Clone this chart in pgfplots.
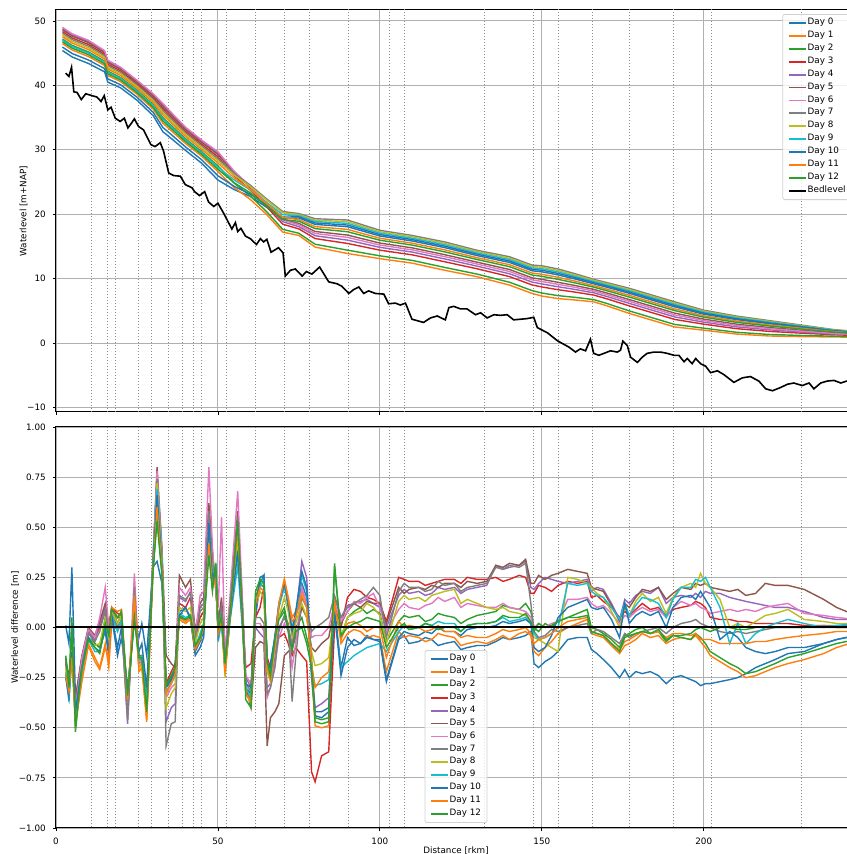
\documentclass[border=0pt]{standalone}
\usepackage{fontspec}
\setmainfont{DejaVu Sans}
\usepackage{pgfplots}
\usepackage{pgfplotstable}
\pgfplotsset{compat=1.18}

\definecolor{C0}{HTML}{1F77B4}
\definecolor{C1}{HTML}{FF7F0E}
\definecolor{C2}{HTML}{2CA02C}
\definecolor{C3}{HTML}{D62728}
\definecolor{C4}{HTML}{9467BD}
\definecolor{C5}{HTML}{8C564B}
\definecolor{C6}{HTML}{E377C2}
\definecolor{C7}{HTML}{7F7F7F}
\definecolor{C8}{HTML}{BCBD22}
\definecolor{C9}{HTML}{17BECF}
\definecolor{gridc}{HTML}{B0B0B0}

\pgfplotstableread{
x d0 d1 d2 d3 d4 d5 d6 d7 d8 d9 d10 d11 d12
2 45.40 46.48 47.20 48.35 48.82 48.64 49.00 48.10 47.85 47.02 45.94 47.56 46.77
5 44.40 45.48 46.20 47.35 47.82 47.64 48.00 47.10 46.85 46.02 44.94 46.56 45.77
10 43.40 44.48 45.20 46.35 46.82 46.64 47.00 46.10 45.85 45.02 43.94 45.56 44.77
15 42.10 43.09 43.75 44.81 45.24 45.07 45.40 44.58 44.34 43.59 42.60 44.08 43.35
16 40.50 41.52 42.20 43.29 43.73 43.56 43.90 43.05 42.81 42.03 41.01 42.54 41.79
20 39.60 40.56 41.20 42.22 42.64 42.48 42.80 42.00 41.78 41.04 40.08 41.52 40.82
25 37.70 38.63 39.25 40.24 40.65 40.49 40.80 40.03 39.81 39.10 38.17 39.56 38.88
30 35.30 36.32 37.00 38.09 38.53 38.36 38.70 37.85 37.61 36.83 35.81 37.34 36.59
33 32.80 34.12 35.00 36.41 36.98 36.76 37.20 36.10 35.79 34.78 33.46 35.44 34.47
35 32.00 33.23 34.05 35.36 35.90 35.69 36.10 35.08 34.79 33.85 32.62 34.46 33.56
40 29.90 30.98 31.70 32.85 33.32 33.14 33.50 32.60 32.35 31.52 30.44 32.06 31.27
45 27.90 28.98 29.70 30.85 31.32 31.14 31.50 30.60 30.35 29.52 28.44 30.06 29.27
50 25.30 26.62 27.50 28.91 29.48 29.26 29.70 28.60 28.29 27.28 25.96 27.94 26.97
55 23.82 24.14 24.84 25.99 26.48 26.44 26.69 26.32 26.06 25.31 24.33 25.63 24.89
60 22.76 22.29 22.82 23.72 24.11 24.21 24.31 24.51 24.30 23.78 23.12 23.84 23.31
65 21.09 19.97 20.41 21.18 21.52 21.74 21.73 22.39 22.21 21.83 21.37 21.68 21.28
70 19.30 17.22 17.65 18.45 18.84 19.23 19.10 20.42 20.23 19.92 19.56 19.51 19.15
75 19.42 16.70 17.04 17.72 18.06 18.57 18.33 20.10 19.93 19.76 19.59 19.15 18.91
80 18.42 14.90 15.34 16.22 16.66 17.32 17.01 19.30 19.08 18.86 18.64 18.07 17.76
90 18.06 13.90 14.42 15.46 15.98 16.76 16.40 19.10 18.84 18.58 18.32 17.64 17.28
100 16.62 13.10 13.54 14.42 14.86 15.52 15.21 17.50 17.28 17.06 16.84 16.27 15.96
110 15.84 12.40 12.83 13.69 14.12 14.77 14.46 16.70 16.49 16.27 16.06 15.50 15.20
120 14.82 11.30 11.74 12.62 13.06 13.72 13.41 15.70 15.48 15.26 15.04 14.47 14.16
130 13.58 10.30 10.71 11.53 11.94 12.56 12.27 14.40 14.20 13.99 13.79 13.25 12.97
140 12.52 9.00 9.44 10.32 10.76 11.42 11.11 13.40 13.18 12.96 12.74 12.17 11.86
147 11.22 7.70 8.14 9.02 9.46 10.12 9.81 12.10 11.88 11.66 11.44 10.87 10.56
150 11.06 7.30 7.77 8.71 9.18 9.89 9.56 12.00 11.77 11.53 11.30 10.68 10.36
155 10.58 6.90 7.36 8.28 8.74 9.43 9.11 11.50 11.27 11.04 10.81 10.21 9.89
160 9.98 6.70 7.11 7.93 8.34 8.96 8.67 10.80 10.60 10.39 10.19 9.65 9.37
166 9.20 6.40 6.75 7.45 7.80 8.33 8.08 9.90 9.73 9.55 9.38 8.92 8.68
170 8.68 5.80 6.16 6.88 7.24 7.78 7.53 9.40 9.22 9.04 8.86 8.39 8.14
177 7.72 4.60 4.99 5.77 6.16 6.75 6.47 8.50 8.31 8.11 7.92 7.41 7.14
185 6.52 3.40 3.79 4.57 4.96 5.55 5.27 7.30 7.11 6.91 6.72 6.21 5.94
191 5.62 2.50 2.89 3.67 4.06 4.65 4.37 6.40 6.21 6.01 5.82 5.31 5.04
200 4.48 2.00 2.31 2.93 3.24 3.71 3.49 5.10 4.95 4.79 4.64 4.23 4.02
210 3.64 1.40 1.68 2.24 2.52 2.94 2.74 4.20 4.06 3.92 3.78 3.42 3.22
220 3.02 1.10 1.34 1.82 2.06 2.42 2.25 3.50 3.38 3.26 3.14 2.83 2.66
230 2.44 1.00 1.18 1.54 1.72 1.99 1.86 2.80 2.71 2.62 2.53 2.30 2.17
240 1.87 0.95 1.07 1.30 1.41 1.58 1.50 2.10 2.04 1.99 1.93 1.78 1.70
247 1.62 0.90 0.99 1.17 1.26 1.40 1.33 1.80 1.76 1.71 1.67 1.55 1.49
}\wl

\pgfplotstableread{
x y
3.0 41.9
4.0 41.4
4.8 42.8
5.5 39.0
6.5 38.9
7.8 37.8
9.2 38.7
11.1 38.4
12.6 38.2
13.9 37.5
14.9 38.4
16.0 36.2
17.0 36.6
18.3 34.9
19.8 34.4
21.1 34.9
22.2 33.4
23.4 34.2
24.2 34.8
25.5 33.6
27.0 33.1
29.3 30.8
30.6 30.5
32.2 31.1
33.2 29.8
34.8 26.4
36.3 26.0
38.4 25.9
39.9 24.6
42.0 24.1
42.8 23.5
44.3 22.9
45.9 23.5
47.1 21.9
48.7 21.2
50.0 21.7
51.6 20.3
54.3 17.7
55.4 18.7
56.1 17.3
57.1 17.8
58.5 16.6
60.0 16.2
61.9 15.3
63.1 16.2
64.1 15.7
65.1 16.1
66.4 14.1
68.7 14.8
70.1 14.0
70.8 10.4
72.4 11.3
73.9 11.5
76.0 10.4
77.3 11.1
79.0 10.7
81.4 11.8
84.2 9.5
86.8 9.2
88.3 8.8
90.4 7.7
91.9 8.3
93.5 8.7
95.0 7.7
96.5 8.1
98.6 7.7
101.2 7.6
102.7 6.1
104.8 6.2
106.3 5.9
107.9 6.2
109.9 3.7
113.5 3.2
115.6 3.9
117.7 4.2
120.2 3.6
121.3 5.5
122.8 5.7
124.9 5.3
126.9 5.3
129.5 4.4
131.1 4.7
133.1 3.9
135.2 4.4
137.2 4.3
139.3 4.4
141.3 3.6
143.4 3.7
145.5 3.8
147.5 4.0
148.6 2.4
151.7 1.6
154.7 0.4
156.8 -0.2
158.3 -0.6
160.4 -1.4
161.9 -0.9
163.5 -1.2
165.0 0.6
166.0 -1.6
167.6 -1.9
169.7 -1.5
171.2 -1.2
173.3 -1.4
174.3 -1.1
175.0 0.3
176.4 -0.4
177.4 -2.2
179.5 -3.0
181.0 -2.2
182.5 -1.6
184.6 -1.4
186.7 -1.4
188.7 -1.6
190.8 -1.9
192.3 -1.9
193.9 -2.9
194.9 -2.4
196.4 -3.2
197.5 -2.4
199.0 -3.2
200.6 -3.6
202.1 -4.6
204.2 -4.3
206.2 -4.9
209.3 -6.1
211.9 -5.4
214.4 -5.2
217.0 -5.9
219.1 -7.1
221.2 -7.4
223.7 -6.9
225.8 -6.4
227.8 -6.2
230.4 -6.6
232.5 -6.2
234.0 -7.1
236.1 -6.2
238.1 -5.9
240.2 -5.8
242.3 -6.2
244.1 -5.9
247.0 -6.0
}\bed

\pgfplotstableread{
x d0 d1 d2 d3 d4 d5 d6 d7 d8 d9 d10 d11 d12
3 0.01 -0.22 -0.14 -0.18 -0.20 -0.17 -0.19 -0.16 -0.20 -0.23 -0.25 -0.24 -0.15
4 -0.08 -0.30 -0.27 -0.28 -0.26 -0.25 -0.27 -0.30 -0.30 -0.37 -0.35 -0.32 -0.30
4.9 0.30 -0.12 0.05 -0.10 -0.08 -0.10 -0.10 -0.12 -0.10 -0.15 -0.12 -0.15 0.00
6 -0.35 -0.47 -0.52 -0.38 -0.40 -0.36 -0.40 -0.42 -0.46 -0.44 -0.42 -0.48 -0.50
8 -0.15 -0.25 -0.20 -0.15 -0.18 -0.14 -0.15 -0.20 -0.22 -0.22 -0.20 -0.27 -0.20
10 -0.02 -0.08 -0.05 -0.01 -0.02 0.00 -0.01 -0.03 -0.05 -0.06 -0.05 -0.09 -0.06
12 -0.08 -0.15 -0.08 -0.05 -0.06 -0.04 -0.05 -0.07 -0.09 -0.12 -0.10 -0.17 -0.10
13.5 -0.10 -0.20 -0.10 0.00 0.02 0.03 0.05 -0.02 -0.08 -0.12 -0.12 -0.21 -0.13
15.2 -0.02 -0.08 0.05 0.08 0.10 0.12 0.20 0.09 0.04 0.00 0.00 -0.10 0.02
16.3 -0.14 -0.20 -0.05 0.00 0.02 0.00 0.00 -0.03 -0.07 -0.10 -0.12 -0.15 -0.04
17.2 0.05 0.02 0.09 0.10 0.08 0.10 0.07 0.08 0.08 0.06 0.06 0.10 0.09
19 -0.14 0.05 0.02 0.07 0.00 0.05 -0.02 0.00 0.02 -0.02 -0.10 0.08 0.05
20.2 -0.05 0.08 0.07 0.06 0.03 0.05 0.02 0.04 0.06 0.04 0.00 0.09 0.08
22.1 -0.30 -0.38 -0.35 -0.40 -0.48 -0.42 -0.45 -0.46 -0.36 -0.33 -0.32 -0.36 -0.34
24.2 0.03 0.12 0.05 0.10 0.18 0.15 0.27 0.20 0.14 0.08 0.05 0.16 0.04
25.6 -0.05 -0.20 -0.16 -0.15 -0.18 -0.14 -0.17 -0.16 -0.20 -0.16 -0.12 -0.22 -0.15
26.5 0.02 -0.18 -0.16 -0.15 -0.17 -0.14 -0.16 -0.15 -0.19 -0.14 -0.08 -0.20 -0.15
28 -0.14 -0.47 -0.42 -0.38 -0.40 -0.36 -0.39 -0.40 -0.44 -0.38 -0.30 -0.46 -0.42
29.9 0.30 0.25 0.28 0.30 0.32 0.30 0.33 0.32 0.30 0.31 0.30 0.28 0.27
31.2 0.33 0.62 0.55 0.70 0.76 0.80 0.78 0.74 0.72 0.69 0.66 0.60 0.53
32.7 0.22 0.30 0.28 0.35 0.38 0.40 0.38 0.37 0.35 0.33 0.30 0.29 0.26
34 -0.30 -0.33 -0.30 -0.28 -0.47 -0.14 -0.35 -0.59 -0.40 -0.32 -0.30 -0.33 -0.29
35.6 -0.25 -0.27 -0.24 -0.22 -0.40 -0.18 -0.30 -0.48 -0.33 -0.28 -0.26 -0.28 -0.24
36.8 -0.20 -0.22 -0.20 -0.18 -0.38 -0.20 -0.28 -0.47 -0.30 -0.24 -0.22 -0.23 -0.20
38.1 0.08 0.05 0.06 0.12 0.15 0.26 0.20 0.16 0.10 0.07 0.06 0.04 0.05
40 0.10 0.03 0.04 0.10 0.13 0.20 0.16 0.14 0.08 0.05 0.10 0.02 0.04
41.5 0.05 0.05 0.06 0.15 0.18 0.24 0.20 0.17 0.10 0.06 0.04 0.04 0.06
43 -0.14 -0.10 -0.09 -0.06 -0.05 -0.02 -0.04 -0.05 -0.08 -0.10 -0.12 -0.11 -0.09
44.5 -0.10 -0.05 -0.04 0.05 0.10 0.12 0.16 0.08 0.02 -0.03 -0.07 -0.06 -0.05
45.6 -0.05 0.00 0.02 0.08 0.12 0.15 0.18 0.10 0.05 0.02 -0.02 0.00 0.01
47.2 0.50 0.45 0.40 0.55 0.60 0.62 0.80 0.58 0.50 0.48 0.52 0.42 0.36
48.3 0.25 0.22 0.20 0.30 0.35 0.38 0.40 0.33 0.28 0.25 0.24 0.20 0.18
49.3 0.30 0.25 0.30 0.24 0.22 0.20 0.18 0.22 0.26 0.28 0.30 0.24 0.32
50.1 -0.05 -0.03 0.00 -0.02 0.00 0.02 0.10 0.00 -0.05 -0.07 -0.04 -0.03 0.00
51.1 0.05 0.04 0.05 0.08 0.12 0.15 0.55 0.10 0.05 0.03 0.05 0.04 0.05
52.2 -0.20 -0.22 -0.18 -0.14 -0.15 -0.12 -0.14 -0.16 -0.25 -0.22 -0.20 -0.23 -0.18
53.7 0.05 0.04 0.06 0.10 0.10 0.12 0.15 0.10 0.05 0.03 0.04 0.05 0.06
56.1 0.40 0.45 0.53 0.50 0.55 0.58 0.68 0.55 0.45 0.31 0.38 0.50 0.53
57.8 -0.03 -0.05 -0.02 0.00 0.02 0.03 0.05 0.00 -0.05 -0.06 -0.04 -0.04 -0.02
58.6 -0.30 -0.32 -0.30 -0.20 -0.25 -0.30 -0.24 -0.28 -0.33 -0.30 -0.28 -0.33 -0.36
60.2 -0.33 -0.36 -0.35 -0.18 -0.30 -0.40 -0.28 -0.32 -0.38 -0.35 -0.30 -0.37 -0.40
61.6 0.05 0.10 0.15 0.05 0.00 -0.10 0.02 0.05 0.10 0.12 0.08 0.12 0.18
63 0.22 0.18 0.22 0.10 -0.03 -0.07 0.02 0.05 0.18 0.20 0.25 0.20 0.24
64.2 0.26 0.15 0.20 0.20 -0.05 -0.08 -0.02 0.02 0.15 0.24 0.26 0.18 0.22
65.2 -0.20 -0.20 -0.18 -0.15 -0.30 -0.59 -0.35 -0.33 -0.22 -0.17 -0.18 -0.20 -0.17
66.2 -0.18 -0.25 -0.22 -0.20 -0.28 -0.45 -0.30 -0.30 -0.27 -0.22 -0.20 -0.26 -0.24
67.6 -0.05 -0.08 -0.07 -0.10 -0.15 -0.42 -0.18 -0.20 -0.10 -0.05 -0.04 -0.08 -0.06
68.8 0.10 0.10 0.05 -0.05 0.00 -0.38 -0.05 -0.02 0.05 0.10 0.12 0.12 0.04
70.5 0.22 0.24 0.10 -0.03 0.05 -0.14 0.02 0.06 0.15 0.20 0.22 0.24 0.08
71.7 0.10 0.15 0.00 -0.08 0.00 -0.12 -0.02 0.02 0.08 0.12 0.12 0.14 -0.02
72.9 -0.03 0.05 -0.10 -0.14 -0.08 -0.10 -0.20 -0.37 -0.05 0.00 -0.02 0.03 -0.12
74 0.05 0.08 0.00 -0.10 0.05 -0.05 -0.08 -0.15 0.02 0.06 0.08 0.05 -0.02
75.9 0.22 0.18 0.05 -0.14 0.33 0.10 0.20 0.15 0.12 0.26 0.28 0.16 0.00
77.4 0.15 0.12 -0.05 -0.17 0.25 0.05 0.12 0.10 0.05 0.18 0.20 0.10 -0.08
78.9 -0.25 -0.22 -0.15 -0.72 -0.20 -0.10 -0.05 -0.02 -0.12 -0.20 -0.22 -0.18 -0.20
80 -0.44 -0.49 -0.47 -0.77 -0.40 -0.12 -0.04 0.00 -0.19 -0.29 -0.42 -0.30 -0.45
82 -0.45 -0.50 -0.48 -0.64 -0.38 -0.08 -0.04 0.02 -0.18 -0.28 -0.42 -0.25 -0.46
84.2 -0.42 -0.49 -0.47 -0.62 -0.35 -0.05 0.00 0.05 -0.15 -0.26 -0.40 -0.22 -0.45
86 0.10 0.15 0.32 0.00 0.15 0.10 0.12 0.16 0.10 0.05 0.08 0.12 0.30
88 -0.20 -0.08 -0.05 0.00 0.05 0.02 0.03 0.05 -0.05 -0.20 -0.24 -0.06 -0.04
90 -0.05 -0.03 0.05 0.15 0.11 0.08 0.08 0.10 0.05 -0.17 -0.10 0.02 0.00
92 -0.09 -0.01 0.08 0.19 0.12 0.12 0.13 0.12 0.07 -0.14 -0.06 0.03 0.02
94 -0.08 -0.02 0.10 0.18 0.13 0.10 0.12 0.14 0.08 -0.12 -0.08 0.01 0.03
96 -0.04 -0.05 0.07 0.15 0.14 0.13 0.15 0.16 0.12 -0.10 -0.05 -0.02 0.05
98 -0.06 -0.04 0.09 0.14 0.12 0.12 0.17 0.20 0.10 -0.09 -0.06 0.00 0.04
100 -0.07 -0.05 0.07 0.12 0.10 0.12 0.10 0.16 0.06 -0.08 -0.06 0.00 0.03
102 -0.27 -0.22 -0.07 0.03 0.00 0.02 -0.02 -0.05 -0.08 -0.12 -0.26 -0.15 -0.10
105.8 -0.06 -0.02 0.03 0.25 0.16 0.20 0.09 0.18 0.13 -0.02 -0.05 0.03 0.00
107.5 -0.04 -0.05 0.06 0.24 0.19 0.17 0.12 0.22 0.16 0.01 -0.02 0.00 0.02
109 -0.08 -0.04 0.05 0.23 0.17 0.19 0.10 0.20 0.14 -0.01 -0.03 0.01 -0.01
112 -0.07 -0.05 0.06 0.23 0.18 0.20 0.09 0.20 0.15 0.00 -0.04 0.00 0.00
114 -0.05 -0.07 0.03 0.21 0.16 0.19 0.11 0.18 0.13 0.02 -0.02 -0.02 0.02
116 -0.06 -0.06 0.04 0.22 0.17 0.21 0.12 0.19 0.16 0.01 -0.03 -0.01 0.01
118 -0.09 -0.03 0.07 0.23 0.20 0.20 0.15 0.23 0.17 0.03 0.00 0.01 -0.01
120 -0.08 -0.04 0.06 0.24 0.19 0.22 0.13 0.21 0.18 0.02 -0.02 -0.02 0.00
123 -0.07 -0.05 0.05 0.24 0.20 0.22 0.15 0.22 0.19 0.02 -0.02 -0.02 0.00
125 -0.11 -0.09 0.02 0.22 0.17 0.20 0.10 0.18 0.12 -0.02 -0.04 -0.05 -0.02
127 -0.10 -0.08 0.04 0.25 0.19 0.23 0.12 0.20 0.14 0.01 -0.01 -0.04 0.01
130 -0.09 -0.07 0.06 0.24 0.20 0.22 0.11 0.21 0.12 0.02 0.00 -0.05 0.02
133 -0.09 -0.08 0.07 0.24 0.21 0.23 0.10 0.22 0.10 0.02 0.00 -0.05 0.02
135.8 -0.07 -0.06 0.08 0.25 0.31 0.31 0.10 0.30 0.09 0.03 0.01 -0.03 0.03
138 -0.05 -0.04 0.11 0.23 0.29 0.30 0.12 0.29 0.10 0.05 0.03 -0.01 0.06
140 -0.06 -0.06 0.10 0.24 0.30 0.32 0.10 0.31 0.08 0.03 0.02 -0.02 0.05
143 -0.05 -0.03 0.09 0.26 0.31 0.31 0.09 0.30 0.07 0.04 0.03 -0.01 0.05
145 -0.04 -0.02 0.12 0.25 0.33 0.34 0.08 0.32 0.06 0.05 0.04 0.00 0.07
146.6 -0.02 -0.04 0.08 0.17 0.20 0.22 0.05 0.12 0.02 0.02 0.02 -0.03 0.03
147.6 -0.18 -0.12 0.00 0.17 0.19 0.22 0.00 -0.02 -0.05 -0.03 -0.10 -0.08 -0.02
149 -0.20 -0.14 -0.02 0.21 0.22 0.26 0.02 -0.05 -0.06 -0.06 -0.12 -0.06 0.02
151 -0.17 -0.10 0.02 0.20 0.25 0.24 0.00 -0.04 -0.08 -0.05 -0.10 -0.05 0.00
153 -0.15 -0.07 0.00 0.18 0.24 0.26 0.02 -0.01 -0.10 -0.03 -0.04 -0.03 0.01
155 -0.12 -0.03 0.03 0.21 0.23 0.27 0.03 -0.02 -0.12 0.00 0.05 0.00 0.03
158 -0.06 0.00 0.05 0.23 0.22 0.29 0.14 0.00 0.25 0.22 0.10 0.03 0.05
161 -0.05 0.02 0.07 0.22 0.23 0.28 0.14 0.01 0.24 0.21 0.12 0.04 0.05
164 -0.05 0.04 0.09 0.23 0.24 0.27 0.15 0.02 0.22 0.22 0.14 0.05 0.06
165.3 -0.11 -0.03 0.00 0.15 0.18 0.20 0.12 -0.03 0.20 0.18 0.10 -0.02 -0.02
167 -0.13 -0.04 -0.01 0.16 0.20 0.19 0.10 -0.01 0.17 0.16 0.09 -0.03 -0.03
169 -0.16 -0.05 -0.03 0.13 0.19 0.18 0.11 -0.02 0.15 0.15 0.10 -0.04 -0.04
171.5 -0.20 -0.09 -0.06 0.10 0.12 0.11 0.07 -0.05 0.08 0.10 0.04 -0.08 -0.08
174 -0.25 -0.13 -0.10 0.05 0.04 0.03 0.02 -0.08 0.00 0.04 -0.05 -0.11 -0.12
175.6 -0.21 -0.09 -0.04 0.08 0.14 0.12 0.06 -0.03 0.10 0.12 0.12 -0.07 -0.05
177 -0.25 -0.08 -0.03 0.06 0.12 0.10 0.05 -0.05 0.06 0.06 0.02 -0.06 -0.04
179 -0.22 -0.06 -0.01 0.09 0.16 0.15 0.08 -0.03 0.13 0.11 0.06 -0.04 -0.03
181 -0.23 -0.03 0.00 0.12 0.18 0.19 0.10 -0.02 0.17 0.15 0.08 -0.02 -0.02
183.5 -0.22 -0.05 -0.03 0.09 0.17 0.18 0.08 -0.01 0.13 0.14 0.06 -0.03 -0.03
186 -0.24 -0.04 -0.02 0.10 0.20 0.20 0.09 0.00 0.15 0.12 0.08 -0.02 -0.01
188.4 -0.28 -0.08 -0.07 0.06 0.12 0.14 0.05 -0.03 0.07 0.05 0.00 -0.05 -0.06
190.5 -0.25 -0.06 -0.04 0.09 0.15 0.17 0.10 0.00 0.15 0.14 0.10 -0.03 -0.04
193 -0.24 -0.05 -0.05 0.10 0.16 0.20 0.13 0.02 0.20 0.20 0.15 -0.03 -0.04
196 -0.26 -0.06 -0.06 0.11 0.15 0.19 0.11 0.03 0.22 0.20 0.16 -0.04 -0.03
197.5 -0.27 -0.04 -0.03 0.13 0.17 0.22 0.12 0.04 0.20 0.24 0.14 -0.03 -0.01
199 -0.29 -0.07 -0.05 0.12 0.15 0.21 0.10 0.02 0.27 0.23 0.18 -0.06 0.00
200.5 -0.28 -0.10 -0.08 0.10 0.18 0.22 0.09 0.01 0.22 0.25 0.14 -0.06 -0.01
202 -0.28 -0.14 -0.12 0.05 0.17 0.20 0.07 0.00 0.20 0.20 0.10 -0.06 -0.02
205 -0.27 -0.17 -0.15 0.04 0.17 0.19 0.08 -0.02 0.14 0.10 -0.06 -0.08 0.00
208 -0.26 -0.20 -0.18 0.04 0.15 0.18 0.09 -0.03 0.00 -0.08 -0.02 -0.08 0.00
210.5 -0.25 -0.22 -0.20 0.03 0.14 0.19 0.08 -0.02 0.02 0.02 -0.05 -0.08 -0.01
213 -0.23 -0.25 -0.23 0.03 0.13 0.16 0.09 -0.03 0.00 -0.08 -0.10 -0.08 -0.01
216 -0.20 -0.24 -0.22 0.02 0.12 0.17 0.08 -0.02 0.03 -0.03 -0.12 -0.07 0.00
219 -0.18 -0.22 -0.20 0.02 0.11 0.22 0.10 -0.01 0.06 0.00 -0.13 -0.07 0.00
222 -0.16 -0.20 -0.18 0.02 0.10 0.21 0.11 0.00 0.07 0.02 -0.12 -0.06 0.00
226 -0.13 -0.18 -0.15 0.02 0.10 0.21 0.12 0.00 0.09 0.04 -0.10 -0.05 0.00
231 -0.12 -0.16 -0.13 0.01 0.08 0.19 0.07 0.00 0.04 0.02 -0.10 -0.04 0.00
237 -0.08 -0.13 -0.10 0.01 0.05 0.14 0.06 0.01 0.03 0.00 -0.08 -0.03 0.00
241 -0.06 -0.10 -0.08 0.00 0.04 0.10 0.05 0.01 0.02 0.01 -0.06 -0.02 0.00
247 -0.04 -0.07 -0.06 0.00 0.04 0.06 0.04 0.01 0.02 0.02 -0.04 -0.02 0.00
}\diff

\newcommand{\fs}{\fontsize{4.4}{5.2}\selectfont}

\pgfplotsset{
  legend image code/.code={\draw[#1, line width=0.9pt] (0pt,0pt) -- (8.5pt,0pt);},
  myax/.style={
    scale only axis, width=400pt, xmin=0, xmax=247,
    axis line style={black, line width=0.5pt},
    tick pos=left, tick align=outside, major tick length=1.6pt,
    every tick/.style={black, line width=0.4pt},
    grid=major, major grid style={gridc, line width=0.45pt},
    xtick={0,50,100,150,200},
    font=\fs, ticklabel style={font=\fs},
    /pgf/number format/assume math mode=true,
    ylabel shift=-7pt,
    legend cell align=left,
    legend style={font=\fs, draw=gray!35, fill=white, fill opacity=0.8, text opacity=1,
      draw opacity=1, rounded corners=1pt, inner xsep=2.5pt, inner ysep=1.5pt,
      nodes={inner sep=0.5pt}, row sep=0.7pt},
    every axis plot/.append style={line width=0.7pt},
  },
  dline/.style={dash pattern=on 0.5pt off 1pt, gray!90, line width=0.45pt, forget plot},
}

\begin{document}
\begin{tikzpicture}
% ---------------- top panel ----------------
\begin{axis}[myax, at={(0,0)}, anchor=south west, height=201pt,
  ymin=-10.7, ymax=51.7,
  ytick={-10,0,10,20,30,40,50}, yticklabels={−10,0,10,20,30,40,50},
  xticklabels={},
  ylabel={Waterlevel [m+NAP]},
  legend style={at={(0.995,0.99)}, anchor=north east}]
\pgfplotsinvokeforeach{11.0,15.8,18.4,25.4,29.5,34.6,38.9,42.5,44.8,52.7,61.6,70.4,78.2,90.2,102.8,107.5,132.2,147.5,155.1,165.6,176.9,190.7,202.4,230.3}{
  \addplot[dline] coordinates {(#1,-20) (#1,60)};
}
\addplot[C0] table[x=x,y=d0] {\wl}; \addlegendentry{Day 0}
\addplot[C1] table[x=x,y=d1] {\wl}; \addlegendentry{Day 1}
\addplot[C2] table[x=x,y=d2] {\wl}; \addlegendentry{Day 2}
\addplot[C3] table[x=x,y=d3] {\wl}; \addlegendentry{Day 3}
\addplot[C4] table[x=x,y=d4] {\wl}; \addlegendentry{Day 4}
\addplot[C5] table[x=x,y=d5] {\wl}; \addlegendentry{Day 5}
\addplot[C6] table[x=x,y=d6] {\wl}; \addlegendentry{Day 6}
\addplot[C7] table[x=x,y=d7] {\wl}; \addlegendentry{Day 7}
\addplot[C8] table[x=x,y=d8] {\wl}; \addlegendentry{Day 8}
\addplot[C9] table[x=x,y=d9] {\wl}; \addlegendentry{Day 9}
\addplot[C0] table[x=x,y=d10] {\wl}; \addlegendentry{Day 10}
\addplot[C1] table[x=x,y=d11] {\wl}; \addlegendentry{Day 11}
\addplot[C2] table[x=x,y=d12] {\wl}; \addlegendentry{Day 12}
\addplot[black, line width=0.8pt] table[x=x,y=y] {\bed}; \addlegendentry{Bedlevel}
\end{axis}
% ---------------- bottom panel ----------------
\begin{axis}[myax, at={(0,-7.5pt)}, anchor=north west, height=200.5pt,
  ymin=-1, ymax=1,
  ytick={-1,-0.75,-0.5,-0.25,0,0.25,0.5,0.75,1},
  yticklabels={−1.00,−0.75,−0.50,−0.25,0.00,0.25,0.50,0.75,1.00},
  xticklabels={0,50,100,150,200},
  xlabel={Distance [rkm]},
  ylabel={Waterlevel difference [m]},
  xlabel style={yshift=6pt},
  legend style={at={(0.5,0.0125)}, anchor=south}]
\pgfplotsinvokeforeach{11.0,15.8,18.4,25.4,29.5,34.6,38.9,42.5,44.8,52.7,61.6,70.4,78.2,90.2,102.8,107.5,132.2,147.5,155.1,165.6,176.9,190.7,202.4,230.3}{
  \addplot[dline] coordinates {(#1,-2) (#1,2)};
}
\addplot[C0] table[x=x,y=d0] {\diff}; \addlegendentry{Day 0}
\addplot[C1] table[x=x,y=d1] {\diff}; \addlegendentry{Day 1}
\addplot[C2] table[x=x,y=d2] {\diff}; \addlegendentry{Day 2}
\addplot[C3] table[x=x,y=d3] {\diff}; \addlegendentry{Day 3}
\addplot[C4] table[x=x,y=d4] {\diff}; \addlegendentry{Day 4}
\addplot[C5] table[x=x,y=d5] {\diff}; \addlegendentry{Day 5}
\addplot[C6] table[x=x,y=d6] {\diff}; \addlegendentry{Day 6}
\addplot[C7] table[x=x,y=d7] {\diff}; \addlegendentry{Day 7}
\addplot[C8] table[x=x,y=d8] {\diff}; \addlegendentry{Day 8}
\addplot[C9] table[x=x,y=d9] {\diff}; \addlegendentry{Day 9}
\addplot[C0] table[x=x,y=d10] {\diff}; \addlegendentry{Day 10}
\addplot[C1] table[x=x,y=d11] {\diff}; \addlegendentry{Day 11}
\addplot[C2] table[x=x,y=d12] {\diff}; \addlegendentry{Day 12}
\addplot[black, line width=1pt, forget plot] coordinates {(0,0) (247,0)};
\end{axis}
\pgfresetboundingbox
\useasboundingbox (-28pt,-221pt) rectangle (395pt,206pt);
\end{tikzpicture}
\end{document}
